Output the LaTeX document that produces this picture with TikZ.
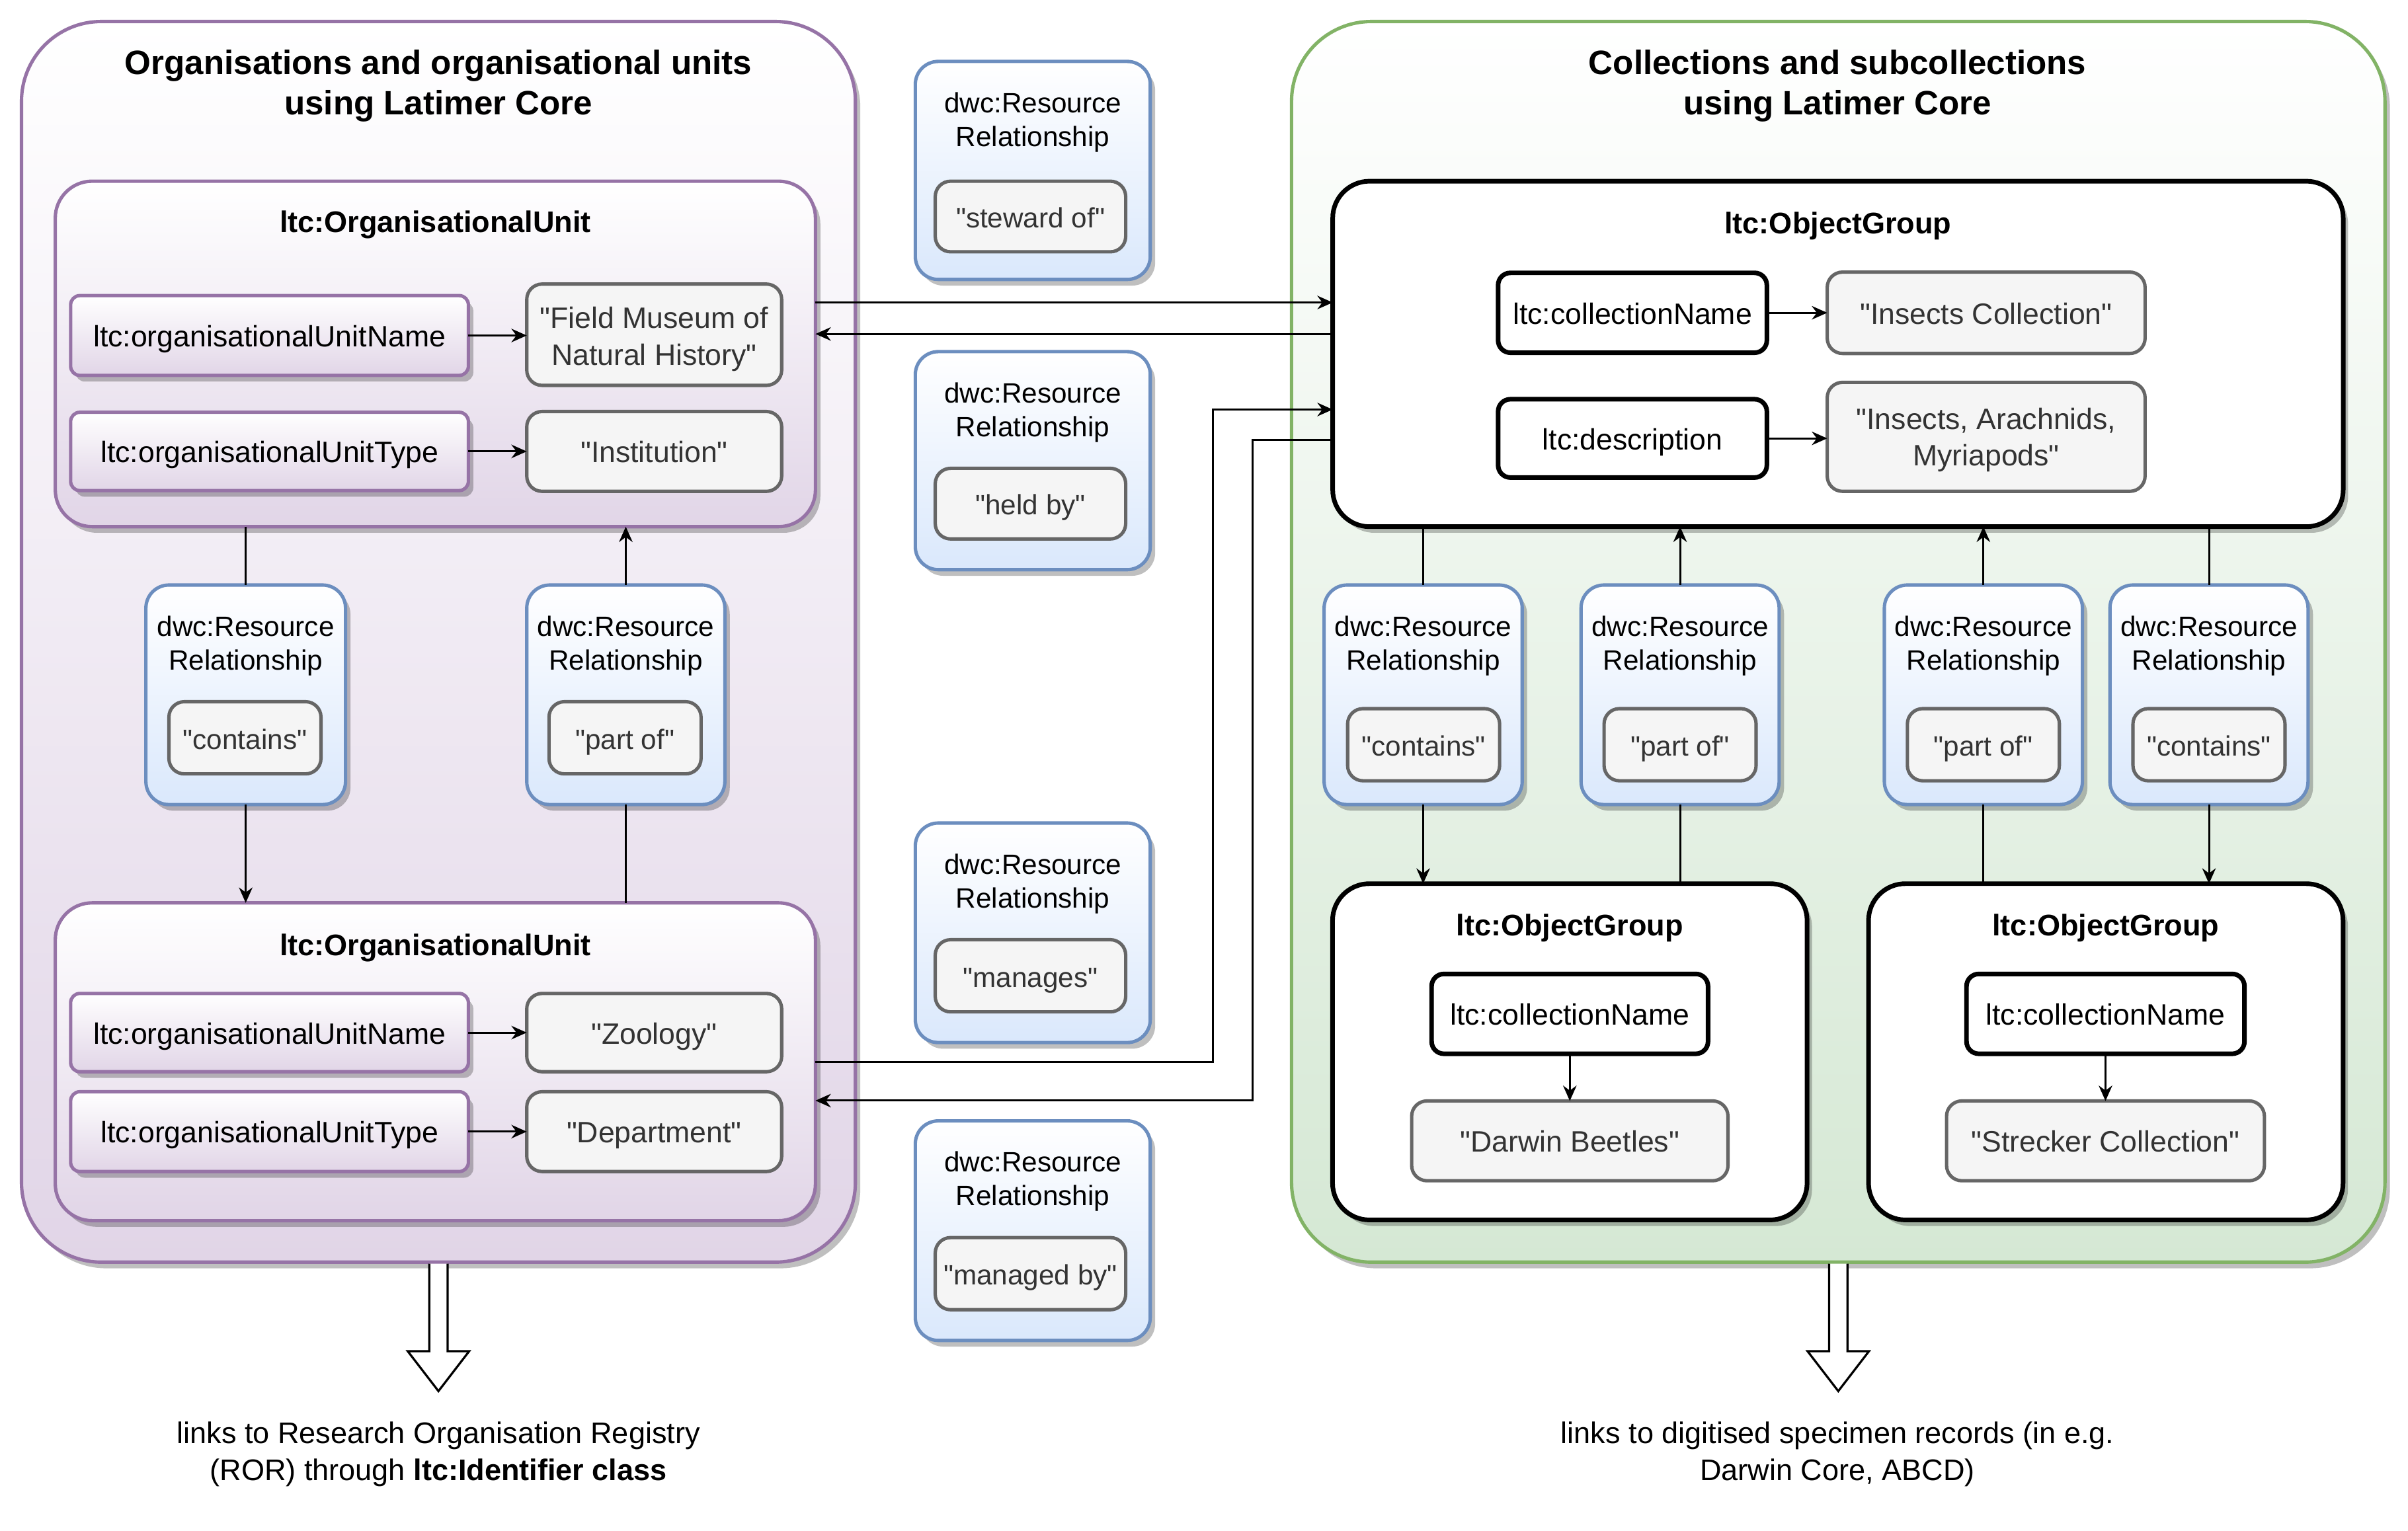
\documentclass[tikz,border=0pt]{standalone}
\usepackage{fontspec}
\setmainfont{Liberation Sans}[Ligatures=TeXOff]
\usetikzlibrary{shadows,arrows.meta,calc}
\definecolor{purS}{HTML}{9673A6}
\definecolor{purF}{HTML}{E1D5E7}
\definecolor{grnS}{HTML}{82B366}
\definecolor{grnF}{HTML}{D5E8D4}
\definecolor{bluS}{HTML}{6C8EBF}
\definecolor{bluF}{HTML}{DAE8FC}
\definecolor{gryS}{HTML}{666666}
\definecolor{gryF}{HTML}{F5F5F5}
\definecolor{gryT}{HTML}{333333}
\tikzset{
 sz/.style 2 args={minimum width=#1*0.5pt, minimum height=#2*0.5pt},
 bx/.style={inner sep=0pt, outer sep=0pt, align=center, font=\fontsize{9.6}{12}\selectfont},
 onel/.style={text height=0.73em, text depth=0pt},
 shad/.style={drop shadow={shadow xshift=1.6pt, shadow yshift=-2pt, opacity=0.25, fill=black}},
 outerP/.style={bx, rectangle, rounded corners=26pt, draw=purS, line width=1.1pt, top color=white, bottom color=purF, shad},
 outerG/.style={bx, rectangle, rounded corners=26pt, draw=grnS, line width=1.1pt, top color=white, bottom color=grnF, shad},
 unitP/.style={bx, rounded corners=12pt, draw=purS, line width=1.1pt, top color=white, bottom color=purF, shad},
 keyP/.style={bx, onel, rounded corners=3pt, draw=purS, line width=1.1pt, top color=white, bottom color=purF, shad},
 valbox/.style={bx, onel, rounded corners=5pt, draw=gryS, line width=1.1pt, fill=gryF, text=gryT},
 valtxt/.style={bx, text=gryT},
 rrbox/.style={bx, rounded corners=7.5pt, draw=bluS, line width=1.1pt, top color=white, bottom color=bluF, shad},
 ogbox/.style={bx, rounded corners=12pt, draw=black, line width=1.5pt, fill=white, shad},
 keyB/.style={bx, onel, rounded corners=4pt, draw=black, line width=1.5pt, fill=white},
 titletxt/.style={bx, font=\fontsize{11}{13}\selectfont\bfseries},
 unittitle/.style={bx, onel, font=\fontsize{9.7}{12}\selectfont\bfseries},
 rrtitle/.style={bx, font=\fontsize{9.1}{11}\selectfont},
 rrval/.style={valbox, font=\fontsize{9.1}{11}\selectfont},
 conn/.style={line width=0.65pt, -{Stealth[length=5pt,width=4.4pt]}},
 plainln/.style={line width=0.65pt},
 blockarrow/.style={line width=0.7pt, fill=white},
}
\begin{document}
\begin{tikzpicture}[x=0.5pt,y=-0.5pt]
\useasboundingbox (0,0) rectangle (1568,997);

% containers
\node[outerP, sz={543}{808}] (L) at (285.5,418) {};
\node[outerG, sz={712}{808}] (R) at (1197,418) {};
\node[titletxt] (Lt) at (285.5,56) {Organisations and organisational units\\using Latimer Core};
\node[titletxt] (Rt) at (1196.5,56) {Collections and subcollections\\using Latimer Core};

% upper organisational unit
\node[unitP, sz={495}{225}] (ou1) at (283.5,230.5) {};
\node[unittitle] (ou1t) at (283.5,144) {ltc:OrganisationalUnit};
\node[keyP, sz={259}{52}] (n1) at (175.5,218.5) {ltc:organisationalUnitName};
\node[valbox, sz={166}{66}] (v1) at (426,218) {};
\node[valtxt] (v1t) at ([yshift=-1.5pt]v1.center) {"Field Museum of\\Natural History"};
\node[keyP, sz={259}{51}] (t1) at (175.5,294) {ltc:organisationalUnitType};
\node[valbox, sz={166}{52}] (tv1) at (426,294) {"Institution"};

% lower organisational unit
\node[unitP, sz={495}{207}] (ou2) at (283.5,691.5) {};
\node[unittitle] (ou2t) at (283.5,615) {ltc:OrganisationalUnit};
\node[keyP, sz={259}{51}] (n2) at (175.5,672.5) {ltc:organisationalUnitName};
\node[valbox, sz={166}{51}] (v2) at (426,672.5) {"Zoology"};
\node[keyP, sz={259}{52}] (t2) at (175.5,737) {ltc:organisationalUnitType};
\node[valbox, sz={166}{52}] (tv2) at (426,737) {"Department"};

% left relationships
\node[rrbox, sz={130}{143}] (rrc) at (160,452.5) {};
\node[rrtitle] (rrct) at (160,420.6) {dwc:Resource\\Relationship};
\node[rrval, sz={99}{47}] (rrcv) at (159.5,480.5) {"contains"};
\node[rrbox, sz={129}{143}] (rrp) at (407.5,452.5) {};
\node[rrtitle] (rrpt) at (407.5,420.6) {dwc:Resource\\Relationship};
\node[rrval, sz={99}{47}] (rrpv) at (407,480.5) {"part of"};

% middle relationships
\node[rrbox, sz={153}{142}] (ms) at (672.5,111) {};
\node[rrtitle] (mst) at (672.5,79.5) {dwc:Resource\\Relationship};
\node[rrval, sz={124}{46}] (msv) at (671,141) {"steward of"};
\node[rrbox, sz={153}{142}] (mh) at (672.5,300) {};
\node[rrtitle] (mht) at (672.5,268.5) {dwc:Resource\\Relationship};
\node[rrval, sz={124}{46}] (mhv) at (671,328) {"held by"};
\node[rrbox, sz={153}{143}] (mm) at (672.5,607.5) {};
\node[rrtitle] (mmt) at (672.5,575.5) {dwc:Resource\\Relationship};
\node[rrval, sz={124}{47}] (mmv) at (671,635.5) {"manages"};
\node[rrbox, sz={153}{143}] (mb) at (672.5,801.5) {};
\node[rrtitle] (mbt) at (672.5,769.5) {dwc:Resource\\Relationship};
\node[rrval, sz={124}{47}] (mbv) at (671,829.5) {"managed by"};

% top object group
\node[ogbox, sz={658}{225}] (og) at (1196.8,230.5) {};
\node[unittitle] (ogt) at (1196.8,145) {ltc:ObjectGroup};
\node[keyB, sz={175}{52}] (cn) at (1063,203.7) {ltc:collectionName};
\node[valbox, sz={207}{53}] (icv) at (1293.3,203.7) {"Insects Collection"};
\node[keyB, sz={175}{51}] (ds) at (1063,285.5) {ltc:description};
\node[valbox, sz={207}{71}] (iav) at (1293.3,284.5) {};
\node[valtxt] (iavt) at ([yshift=-1pt]iav.center) {"Insects, Arachnids,\\Myriapods"};

% right relationships
\node[rrbox, sz={129}{143}] (rc1) at (926.7,452.5) {};
\node[rrtitle] (rc1t) at (926.7,420.6) {dwc:Resource\\Relationship};
\node[rrval, sz={99}{47}] (rc1v) at (927,485) {"contains"};
\node[rrbox, sz={129}{143}] (rp1) at (1094,452.5) {};
\node[rrtitle] (rp1t) at (1094,420.6) {dwc:Resource\\Relationship};
\node[rrval, sz={99}{47}] (rp1v) at (1094,485) {"part of"};
\node[rrbox, sz={129}{143}] (rp2) at (1291.5,452.5) {};
\node[rrtitle] (rp2t) at (1291.5,420.6) {dwc:Resource\\Relationship};
\node[rrval, sz={99}{47}] (rp2v) at (1291.5,485) {"part of"};
\node[rrbox, sz={129}{143}] (rc2) at (1438.4,452.5) {};
\node[rrtitle] (rc2t) at (1438.4,420.6) {dwc:Resource\\Relationship};
\node[rrval, sz={99}{47}] (rc2v) at (1438.4,485) {"contains"};

% lower object groups
\node[ogbox, sz={309}{219}] (og1) at (1022.2,685) {};
\node[unittitle] (og1t) at (1022.2,602) {ltc:ObjectGroup};
\node[keyB, sz={180}{52}] (cn1) at (1022.2,660.3) {ltc:collectionName};
\node[valbox, sz={206}{52}] (db) at (1022.2,743) {"Darwin Beetles"};
\node[ogbox, sz={309}{219}] (og2) at (1371.2,685) {};
\node[unittitle] (og2t) at (1371.2,602) {ltc:ObjectGroup};
\node[keyB, sz={181}{52}] (cn2) at (1371,660.3) {ltc:collectionName};
\node[valbox, sz={207}{52}] (sc) at (1371,743) {"Strecker Collection"};

% property arrows
\draw[conn] (n1.east) -- (n1.east -| v1.west);
\draw[conn] (t1.east) -- (t1.east -| tv1.west);
\draw[conn] (n2.east) -- (n2.east -| v2.west);
\draw[conn] (t2.east) -- (t2.east -| tv2.west);
\draw[conn] (cn.east) -- (cn.east -| icv.west);
\draw[conn] (ds.east) -- (ds.east -| iav.west);
\draw[conn] (cn1.south) -- (db.north);
\draw[conn] (cn2.south) -- (sc.north);

% left relationships
\draw[plainln] (ou1.south -| rrc.north) -- (rrc.north);
\draw[conn] (rrc.south) -- (rrc.south |- ou2.north);
\draw[plainln] (ou2.north -| rrp.south) -- (rrp.south);
\draw[conn] (rrp.north) -- (rrp.north |- ou1.south);

% right relationships
\draw[plainln] (og.south -| rc1.north) -- (rc1.north);
\draw[conn] (rc1.south) -- (rc1.south |- og1.north);
\draw[plainln] (og1.north -| rp1.south) -- (rp1.south);
\draw[conn] (rp1.north) -- (rp1.north |- og.south);
\draw[plainln] (og2.north -| rp2.south) -- (rp2.south);
\draw[conn] (rp2.north) -- (rp2.north |- og.south);
\draw[plainln] (og.south -| rc2.north) -- (rc2.north);
\draw[conn] (rc2.south) -- (rc2.south |- og2.north);

% cross connectors
\draw[conn] (ou1.east |- 0,197) -- (og.west |- 0,197);
\draw[conn] (og.west |- 0,217.5) -- (ou1.east |- 0,217.5);
\draw[conn] (ou2.east |- 0,691.5) -| (790,266.7) -- (og.west |- 0,266.7);
\draw[conn] (og.west |- 0,286.5) -| (815.7,716.8) -- (ou2.east |- 0,716.8);

% block arrows
\draw[blockarrow] ($(L.south)+(-6,1)$) -- ++(0,57) -- ++(-14,0) -- ++(20,26) -- ++(20,-26) -- ++(-14,0) -- ++(0,-57);
\draw[blockarrow] ($(R.south)+(-6,1)$) -- ++(0,57) -- ++(-14,0) -- ++(20,26) -- ++(20,-26) -- ++(-14,0) -- ++(0,-57);

% bottom notes
\node[bx, font=\fontsize{9.7}{12}\selectfont] (lnote) at (285.5,947) {links to Research Organisation Registry\\(ROR) through \textbf{ltc:Identifier class}};
\node[bx, font=\fontsize{9.7}{12}\selectfont] (rnote) at (1196.5,947) {links to digitised specimen records (in e.g.\\Darwin Core, ABCD)};
\end{tikzpicture}
\end{document}
